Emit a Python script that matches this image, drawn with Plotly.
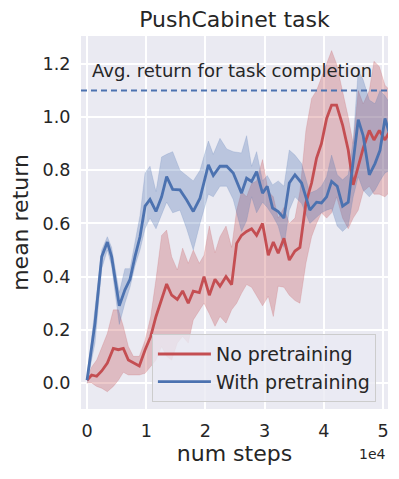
import plotly.graph_objects as go

# ---- data ----
blue_x = [0, 1350, 2480, 3430, 4150, 5450, 6400, 7260, 8100, 8950, 9800, 10640, 11650, 12600,
          13450, 14470, 15700, 16830, 17950, 19090, 20500, 21330, 22460, 23600, 24700, 26100,
          26960, 27800, 28650, 29650, 30450, 31350, 32300, 33270, 34170, 35130, 36250, 37650,
          38780, 39600, 40480, 41320, 42270, 43180, 44130, 44970, 45820, 46660, 47690, 48650,
          49500, 50340, 51200]
blue_y = [0.01, 0.226, 0.475, 0.53, 0.475, 0.29, 0.35, 0.39, 0.475, 0.55, 0.665, 0.69, 0.645, 0.70,
          0.776, 0.728, 0.726, 0.688, 0.645, 0.695, 0.82, 0.78, 0.815, 0.815, 0.79, 0.714,
          0.77, 0.758, 0.795, 0.714, 0.74, 0.658, 0.645, 0.62, 0.752, 0.783, 0.752, 0.65,
          0.68, 0.677, 0.70, 0.758, 0.74, 0.665, 0.68, 0.825, 0.99, 0.93, 0.783, 0.825,
          0.875, 0.995, 0.93]
blue_lo = [0.0, 0.15, 0.43, 0.50, 0.44, 0.22, 0.30, 0.36, 0.44, 0.50, 0.58, 0.62, 0.58, 0.63,
           0.68, 0.64, 0.65, 0.58, 0.50, 0.60, 0.71, 0.70, 0.74, 0.74, 0.69, 0.57,
           0.61, 0.70, 0.64, 0.68, 0.66, 0.63, 0.59, 0.51, 0.65, 0.70, 0.675, 0.60,
           0.625, 0.64, 0.65, 0.656, 0.59, 0.57, 0.59, 0.70, 0.776, 0.725, 0.70, 0.725,
           0.76, 0.79, 0.80]
blue_hi = [0.02, 0.28, 0.50, 0.55, 0.51, 0.34, 0.43, 0.43, 0.53, 0.63, 0.79, 0.815, 0.72, 0.85,
           0.86, 0.87, 0.80, 0.78, 0.76, 0.80, 0.91, 0.86, 0.92, 0.88, 0.87, 0.865,
           0.93, 0.815, 0.87, 0.76, 0.78, 0.745, 0.76, 0.74, 0.876, 0.857, 0.825, 0.714,
           0.725, 0.74, 0.776, 0.857, 0.783, 0.764, 0.783, 0.914, 1.177, 1.14, 1.064, 1.05,
           1.10, 1.08, 1.05]

red_x = [0, 780, 1630, 2480, 3430, 4440, 5290, 6130, 6980, 7820, 8830, 9800, 10760, 11650,
         12600, 13450, 14300, 15250, 16150, 17100, 17950, 18970, 19760, 20660, 21620, 22460,
         23480, 24430, 25280, 26100, 26960, 27800, 28650, 29650, 30620, 31470, 32300, 33270,
         34170, 35130, 35970, 36980, 37940, 38780, 39600, 40480, 41320, 42160, 43180, 44130,
         44970, 45820, 46660, 47690, 48480, 49380, 50340, 51200]
red_y = [0.01, 0.03, 0.025, 0.045, 0.075, 0.13, 0.125, 0.13, 0.086, 0.075, 0.064, 0.124, 0.175, 0.25,
         0.31, 0.372, 0.33, 0.314, 0.346, 0.30, 0.345, 0.34, 0.40, 0.33, 0.39, 0.364,
         0.40, 0.37, 0.525, 0.555, 0.57, 0.58, 0.555, 0.60, 0.48, 0.53, 0.488, 0.544,
         0.462, 0.496, 0.51, 0.677, 0.752, 0.846, 0.90, 0.995, 1.045, 1.045, 0.97, 0.876,
         0.745, 0.81, 0.883, 0.95, 0.914, 0.95, 0.914, 0.95]
red_lo = [0.0, 0.0, -0.013, -0.02, -0.033, -0.013, 0.01, 0.04, 0.03, 0.03, 0.03, 0.036, 0.06, 0.086,
          0.137, 0.10, 0.086, 0.15, 0.175, 0.15, 0.237, 0.275, 0.30, 0.26, 0.213, 0.25,
          0.225, 0.275, 0.30, 0.337, 0.37, 0.36, 0.33, 0.29, 0.326, 0.25, 0.364, 0.36,
          0.33, 0.31, 0.30, 0.45, 0.55, 0.60, 0.64, 0.62, 0.64, 0.70, 0.62, 0.58,
          0.62, 0.65, 0.72, 0.74, 0.71, 0.71, 0.70, 0.72]
red_hi = [0.02, 0.06, 0.086, 0.13, 0.186, 0.275, 0.275, 0.213, 0.137, 0.10, 0.10, 0.16, 0.25, 0.39,
          0.555, 0.575, 0.475, 0.425, 0.507, 0.45, 0.50, 0.45, 0.48, 0.59, 0.49, 0.55,
          0.59, 0.51, 0.65, 0.72, 0.70, 0.75, 0.76, 0.84, 0.72, 0.70, 0.62, 0.66,
          0.60, 0.62, 0.72, 0.95, 1.07, 1.10, 1.15, 1.20, 1.25, 1.20, 1.10, 1.00,
          0.90, 1.10, 1.05, 1.10, 1.21, 1.19, 1.12, 1.10]

completion_return = 1.1
x_tickvals = [0, 10000, 20000, 30000, 40000, 50000]
x_ticktext = ["0", "1", "2", "3", "4", "5"]
y_tickvals = [0.0, 0.2, 0.4, 0.6, 0.8, 1.0, 1.2]
y_ticktext = ["0.0", "0.2", "0.4", "0.6", "0.8", "1.0", "1.2"]

RED = "#C44E52"
BLUE = "#4C72B0"
RED_FILL = "rgba(196,78,82,0.3)"
BLUE_FILL = "rgba(76,114,176,0.3)"
FONT = "DejaVu Sans"
TXT = "#262626"

fig = go.Figure()

for xs, lo, hi, fc in [(red_x, red_lo, red_hi, RED_FILL), (blue_x, blue_lo, blue_hi, BLUE_FILL)]:
    fig.add_trace(go.Scatter(x=xs, y=hi, mode="lines", line=dict(width=0.6, color=fc),
                             showlegend=False, hoverinfo="skip"))
    fig.add_trace(go.Scatter(x=xs, y=lo, mode="lines", line=dict(width=0.6, color=fc),
                             fill="tonexty", fillcolor=fc, showlegend=False, hoverinfo="skip"))

fig.add_trace(go.Scatter(x=red_x, y=red_y, mode="lines", name="No pretraining",
                         legendgroup="a", line=dict(color=RED, width=2.8)))
fig.add_trace(go.Scatter(x=blue_x, y=blue_y, mode="lines", name="With pretraining",
                         legendgroup="b", line=dict(color=BLUE, width=2.8)))

fig.add_hline(y=completion_return, line=dict(color=BLUE, width=1.8, dash="6px,4px"))

fig.add_annotation(x=24500, y=1.177, xref="x", yref="y", text="Avg. return for task completion",
                   showarrow=False, font=dict(family=FONT, size=18, color=TXT))
fig.add_annotation(x=1, y=-0.121, xref="paper", yref="paper", xanchor="right", yanchor="middle",
                   text="1e4", showarrow=False, font=dict(family=FONT, size=14, color=TXT))

# page body has an 8px margin; size the figure so the plot lands where the reference has it
fig.update_layout(
    width=391, height=471,
    margin=dict(l=73, r=11, t=28, b=70),
    paper_bgcolor="white",
    plot_bgcolor="#EAEAF2",
    font=dict(family=FONT, color=TXT, size=17.6),
    title=dict(text="PushCabinet task", x=0.5793, xanchor="center", y=1 - 11 / 471,
               yanchor="middle", yref="container", font=dict(size=22, family=FONT, color=TXT)),
    legend=dict(x=0.231, y=0.2007, xanchor="left", yanchor="top", traceorder="grouped",
                tracegroupgap=0, itemwidth=53,
                bgcolor="rgba(234,234,242,0.8)", bordercolor="#CCCCCC", borderwidth=1,
                font=dict(size=19, family=FONT, color=TXT)),
    showlegend=True,
)
fig.update_xaxes(range=[-1020, 50850], tickvals=x_tickvals, ticktext=x_ticktext, automargin=False,
                 showgrid=True, gridcolor="white", gridwidth=1.5, zeroline=False, showline=False,
                 ticks="outside", ticklen=6, tickcolor="rgba(0,0,0,0)",
                 tickfont=dict(size=17.6, family=FONT, color=TXT),
                 title=dict(text="num steps", standoff=4,
                            font=dict(size=22, family=FONT, color=TXT)))
fig.update_yaxes(range=[-0.098, 1.305], tickvals=y_tickvals, ticktext=y_ticktext, automargin=False,
                 showgrid=True, gridcolor="white", gridwidth=1.5, zeroline=False, showline=False,
                 ticks="outside", ticklen=6, tickcolor="rgba(0,0,0,0)",
                 tickfont=dict(size=17.6, family=FONT, color=TXT),
                 title=dict(text="mean return", font=dict(size=22, family=FONT, color=TXT)))

fig.write_html("out.html")
